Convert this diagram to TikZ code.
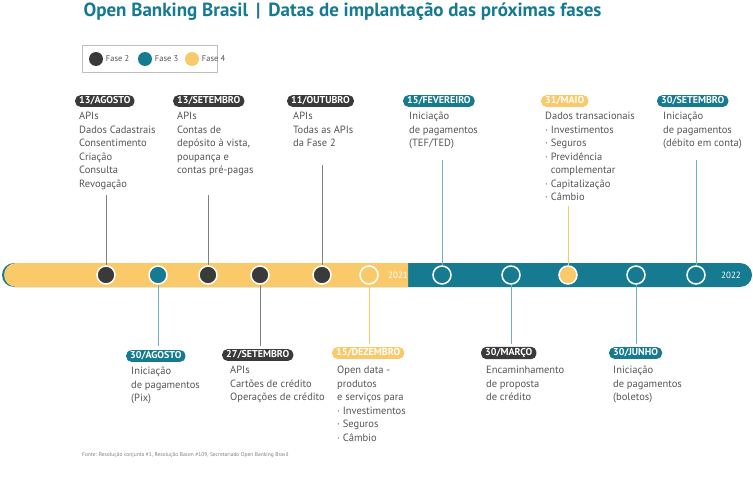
\documentclass[tikz,border=0pt]{standalone}
\usepackage{fontspec}
\setmainfont{PT Sans}
\definecolor{teal}{HTML}{167A91}
\definecolor{yel}{HTML}{F9C96A}
\definecolor{dk}{HTML}{3A3A3A}
\definecolor{tx}{HTML}{555555}
\tikzset{
 pill/.style={rounded corners=5pt,fill=#1,text=white,font=\bfseries\fontsize{10}{10}\selectfont,inner xsep=4pt,inner ysep=1.5pt,anchor=west},
 body/.style={anchor=north west,align=left,text=tx,font=\fontsize{10.5}{13.5}\selectfont,inner sep=0pt},
 dot/.style={circle,draw=white,line width=1.5pt,minimum size=18pt,inner sep=0pt,fill=#1},
 vl/.style={draw=#1,line width=0.6pt},
 lt/.style={anchor=west,text=tx,font=\fontsize{8.5}{8.5}\selectfont,inner sep=2pt}
}
\begin{document}
\begin{tikzpicture}[x=1pt,y=-1pt]
\useasboundingbox[fill=white] (0,0) rectangle (753,500);
\node[anchor=west,text=teal,font=\bfseries\fontsize{19}{19}\selectfont] (title) at (80,12) {Open Banking Brasil \,|\, Datas de implantação das próximas fases};
% legend
\node[draw=gray!50,minimum width=135pt,minimum height=27pt,anchor=north west] (leg) at (82,45) {};
\node[dot=dk,draw=none,minimum size=14pt] (l2) at (96,59) {};
\node[lt] (l2t) at (l2.east) {Fase 2};
\node[dot=teal,draw=none,minimum size=14pt] (l3) at (145,59) {};
\node[lt] (l3t) at (l3.east) {Fase 3};
\node[dot=yel,draw=none,minimum size=14pt] (l4) at (192,59) {};
\node[lt] (l4t) at (l4.east) {Fase 4};
% bar
\fill[teal,rounded corners=12pt] (2,263) rectangle (752,287);
\fill[yel] (408,263) -- (16,263) arc[start angle=90,end angle=270,radius=12pt] -- (408,287) -- cycle;
\node[text=white,font=\fontsize{9}{9}\selectfont,inner sep=0pt] (y1) at (398,275) {2021};
\node[text=white,font=\fontsize{9}{9}\selectfont,inner sep=0pt] (y2) at (731,275) {2022};
% dots
\node[dot=dk] (c1) at (106,275) {};
\node[dot=teal] (c2) at (158,275) {};
\node[dot=dk] (c3) at (208,275) {};
\node[dot=dk] (c4) at (260,275) {};
\node[dot=dk] (c5) at (322,275) {};
\node[dot=yel] (c6) at (369,275) {};
\node[dot=teal] (c7) at (442,275) {};
\node[dot=teal] (c8) at (511,275) {};
\node[dot=yel] (c9) at (568,275) {};
\node[dot=teal] (c10) at (636,275) {};
\node[dot=teal] (c11) at (696,275) {};
% top labels
\node[pill=dk] (p1) at (75,101) {13/AGOSTO};
\node[body] (b1) at (79,112) {APIs\\Dados Cadastrais\\Consentimento\\Criação\\Consulta\\Revogação};
\node[pill=dk] (p3) at (173,101) {13/SETEMBRO};
\node[body] (b3) at (177,112) {APIs\\Contas de\\depósito à vista,\\poupança e\\contas pré-pagas};
\node[pill=dk] (p5) at (287,101) {11/OUTUBRO};
\node[body] (b5) at (293,112) {APIs\\Todas as APIs\\da Fase 2};
\node[pill=teal] (p7) at (403,101) {15/FEVEREIRO};
\node[body] (b7) at (409,112) {Iniciação\\de pagamentos\\(TEF/TED)};
\node[pill=yel] (p9) at (541,101) {31/MAIO};
\node[body] (b9) at (545,112) {Dados transacionais\\\textperiodcentered\ Investimentos\\\textperiodcentered\ Seguros\\\textperiodcentered\ Previdência\\\phantom{\textperiodcentered\ }complementar\\\textperiodcentered\ Capitalização\\\textperiodcentered\ Câmbio};
\node[pill=teal] (p11) at (657,101) {30/SETEMBRO};
\node[body] (b11) at (663,112) {Iniciação\\de pagamentos\\(débito em conta)};
% bottom labels
\node[pill=teal] (p2) at (126,356) {30/AGOSTO};
\node[body] (b2) at (131,367) {Iniciação\\de pagamentos\\(Pix)};
\node[pill=dk] (p4) at (222,355) {27/SETEMBRO};
\node[body] (b4) at (230,366) {APIs\\Cartões de crédito\\Operações de crédito};
\node[pill=yel] (p6) at (332,353) {15/DEZEMBRO};
\node[body] (b6) at (337,366) {Open data -\\produtos\\e serviços para\\\textperiodcentered\ Investimentos\\\textperiodcentered\ Seguros\\\textperiodcentered\ Câmbio};
\node[pill=dk] (p8) at (481,353) {30/MARÇO};
\node[body] (b8) at (486,366) {Encaminhamento\\de proposta\\de crédito};
\node[pill=teal] (p10) at (609,353) {30/JUNHO};
\node[body] (b10) at (613,366) {Iniciação\\de pagamentos\\(boletos)};
% connectors
\coordinate (t1) at (106,195); \draw[vl=gray] (t1) -- (c1.north);
\coordinate (t3) at (208,195); \draw[vl=gray] (t3) -- (c3.north);
\coordinate (t5) at (322,165); \draw[vl=gray] (t5) -- (c5.north);
\coordinate (t7) at (442,160); \draw[vl=teal!60] (t7) -- (c7.north);
\coordinate (t9) at (568,206); \draw[vl=yel] (t9) -- (c9.north);
\coordinate (t11) at (696,160); \draw[vl=teal!60] (t11) -- (c11.north);
\coordinate (d2) at (158,346); \draw[vl=teal!60] (c2.south) -- (d2);
\coordinate (d4) at (260,346); \draw[vl=gray] (c4.south) -- (d4);
\coordinate (d6) at (369,344); \draw[vl=yel] (c6.south) -- (d6);
\coordinate (d8) at (511,344); \draw[vl=teal!60] (c8.south) -- (d8);
\coordinate (d10) at (636,344); \draw[vl=teal!60] (c10.south) -- (d10);
\node[anchor=west,text=gray,font=\fontsize{5.5}{5.5}\selectfont,inner sep=0pt] (fn) at (82,455) {Fonte: Resolução conjunta \#1, Resolução Bacen \#109, Secretariado Open Banking Brasil};
\end{tikzpicture}
\end{document}
